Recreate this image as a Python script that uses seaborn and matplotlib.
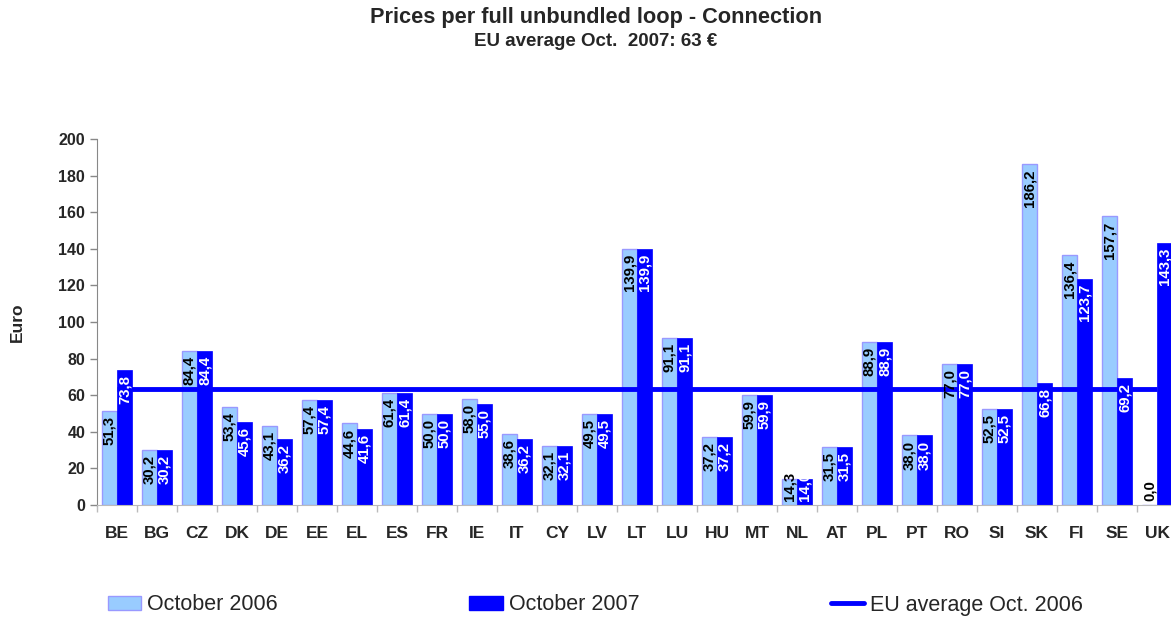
import matplotlib
matplotlib.use("Agg")
import matplotlib.pyplot as plt
import seaborn as sns
import pandas as pd
from matplotlib.patches import Patch
from matplotlib.lines import Line2D

countries = ["BE", "BG", "CZ", "DK", "DE", "EE", "EL", "ES", "FR", "IE", "IT", "CY", "LV", "LT",
             "LU", "HU", "MT", "NL", "AT", "PL", "PT", "RO", "SI", "SK", "FI", "SE", "UK"]
oct_2006 = [51.3, 30.2, 84.4, 53.4, 43.1, 57.4, 44.6, 61.4, 50.0, 58.0, 38.6, 32.1, 49.5, 139.9,
            91.1, 37.2, 59.9, 14.3, 31.5, 88.9, 38.0, 77.0, 52.5, 186.2, 136.4, 157.7, 0.0]
oct_2007 = [73.8, 30.2, 84.4, 45.6, 36.2, 57.4, 41.6, 61.4, 50.0, 55.0, 36.2, 32.1, 49.5, 139.9,
            91.1, 37.2, 59.9, 14.0, 31.5, 88.9, 38.0, 77.0, 52.5, 66.8, 123.7, 69.2, 143.3]
eu_average = 63.3
series_names = ["October 2006", "October 2007"]
line_name = "EU average Oct. 2006"

LIGHT = "#99CCFF"
LIGHT_EDGE = "#9999FF"
DARK = "#0000FF"

df = pd.DataFrame({
    "country": countries * 2,
    "value": oct_2006 + oct_2007,
    "series": [series_names[0]] * len(countries) + [series_names[1]] * len(countries),
})

sns.set_style("white")
plt.rcParams["font.family"] = ["Liberation Sans", "DejaVu Sans"]

fig = plt.figure(figsize=(11.71, 6.19), dpi=100)
ax = fig.add_axes([97 / 1171, 114 / 619, 1080 / 1171, 366 / 619])

sns.barplot(data=df, x="country", y="value", hue="series", order=countries,
            hue_order=series_names, palette=[LIGHT, DARK], width=0.75,
            saturation=1, legend=False, ax=ax, errorbar=None, zorder=2)

n = len(countries)
for i, p in enumerate(ax.patches[:2 * n]):
    if i < n:
        p.set_edgecolor(LIGHT_EDGE)
        p.set_linewidth(1.0)
    else:
        p.set_edgecolor(DARK)
        p.set_linewidth(0.5)

ax.hlines(eu_average, 0, n - 1, color=DARK, lw=3.5, zorder=4)

# value labels
for i, p in enumerate(ax.patches[:2 * n]):
    h = p.get_height()
    xc = p.get_x() + p.get_width() / 2
    col = "black" if i < n else "white"
    txt = f"{h:.1f}".replace(".", ",")
    if h < 22:
        ax.annotate(txt, (xc, 0), xytext=(0, 4), textcoords="offset pixels",
                    rotation=90, ha="center", va="bottom", fontsize=10.8,
                    fontweight="bold", color=col, zorder=5)
    else:
        ax.annotate(txt, (xc, h), xytext=(0, -5), textcoords="offset pixels",
                    rotation=90, ha="center", va="top", fontsize=10.8,
                    fontweight="bold", color=col, zorder=5)

ax.set_xlim(-0.5, n - 0.5)
ax.set_ylim(0, 200)
ax.set_yticks(range(0, 201, 20))
ax.set_xlabel("")
ax.set_ylabel("Euro", fontsize=12.5, fontweight="bold", labelpad=24)
for lab in ax.get_xticklabels() + ax.get_yticklabels():
    lab.set_fontweight("bold")
ax.tick_params(axis="x", which="major", length=0, labelsize=12.5, pad=15)
ax.tick_params(axis="y", which="major", length=5, width=1, color="#888888",
               labelsize=11.5, left=True, direction="out")
ax.set_xticks([i + 0.5 for i in range(-1, n)], minor=True)
ax.tick_params(axis="x", which="minor", length=5, width=1, color="#BBBBBB",
               bottom=True, direction="out")
sns.despine(ax=ax, top=True, right=True)
ax.spines["left"].set_color("#888888")
ax.spines["bottom"].set_color("#BBBBBB")

fig.text(596 / 1171, 1 - 17 / 619, "Prices per full unbundled loop - Connection",
         ha="center", va="center", fontsize=15.7, fontweight="bold")
fig.text(596 / 1171, 1 - 41 / 619, "EU average Oct.  2007: 63 €",
         ha="center", va="center", fontsize=13.5, fontweight="bold")

handles = [Patch(facecolor=LIGHT, edgecolor=LIGHT_EDGE),
           Patch(facecolor=DARK, edgecolor=DARK),
           Line2D([0], [0], color=DARK, lw=3.5)]
fig.legend(handles, series_names + [line_name], ncol=3, loc="center left",
           bbox_to_anchor=(99 / 1171, 1 - 605 / 619), frameon=False,
           fontsize=15.5, handlelength=1.55, handleheight=0.6, handletextpad=0.28,
           columnspacing=8.9, borderaxespad=0)

fig.savefig("out.png", dpi=100)
